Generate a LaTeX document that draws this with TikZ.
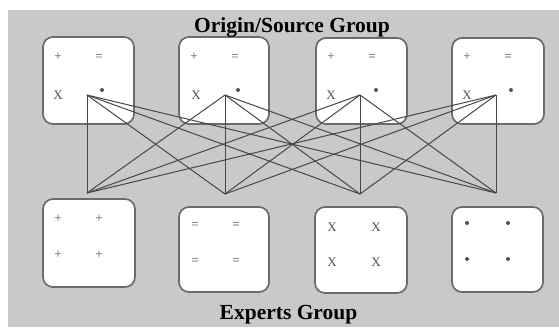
\documentclass[tikz,border=0pt]{standalone}
\usepackage{fontspec}
\setmainfont{Liberation Serif}
\begin{document}
\begin{tikzpicture}[x=1pt,y=-1pt,
  grp/.style={draw=black!58, line width=1.7pt, fill=white, rounded corners=10pt},
  sym/.style={font=\fontsize{13}{13}\selectfont\bfseries, text=black!50, inner sep=0pt},
  symx/.style={font=\fontsize{13}{13}\selectfont, text=black!68, inner sep=0pt},
  dot/.style={circle, fill=black!68, inner sep=0pt, minimum size=4pt},
  link/.style={draw=black!72, line width=1pt},
  title/.style={font=\fontsize{21.5}{22}\selectfont\bfseries, anchor=base, inner sep=0pt}]
\useasboundingbox (0,0) rectangle (559,327);
\fill[white] (0,0) rectangle (559,327);
\fill[black!21] (8,10) rectangle (559,327);
% top boxes
\draw[grp] (43,37) rectangle (134,124);
\draw[grp] (179,37) rectangle (269,124);
\draw[grp] (316,38) rectangle (407,124);
\draw[grp] (452,38) rectangle (544,124);
% bottom boxes
\draw[grp] (43,199) rectangle (135,287);
\draw[grp] (179,207) rectangle (269,292);
\draw[grp] (315,207) rectangle (407,293);
\draw[grp] (452,207) rectangle (543,292);
% top symbols
\foreach \k/\px/\ex/\xx/\dtx in {1/58/99/58/102, 2/194/235/196/238, 3/331/372/331/376, 4/467/508/467/511}{
  \node[sym] (tp\k) at (\px,57) {+};
  \node[sym] (te\k) at (\ex,57) {=};
  \node[symx] (tx\k) at (\xx,95) {X};
  \node[dot] (td\k) at (\dtx,90) {};
}
% bottom symbols
\foreach \a/\b [count=\n] in {58/219, 99/219, 58/255, 99/255}{\node[sym] (bp\n) at (\a,\b) {+};}
\foreach \a/\b [count=\n] in {195/225, 236/225, 195/261, 236/261}{\node[sym] (be\n) at (\a,\b) {=};}
\foreach \a/\b [count=\n] in {332/227, 376/227, 332/262, 376/262}{\node[symx] (bx\n) at (\a,\b) {X};}
\foreach \a/\b [count=\n] in {467/223, 508/223, 467/259, 508/259}{\node[dot] (bd\n) at (\a,\b) {};}
% hubs
\coordinate (t1) at (87,95);
\coordinate (t2) at (225,95);
\coordinate (t3) at (360,95);
\coordinate (t4) at (496,95);
\coordinate (b1) at (87,193);
\coordinate (b2) at (225,194);
\coordinate (b3) at (360,194);
\coordinate (b4) at (496,193);
\foreach \i in {1,2,3,4}{
  \foreach \j in {1,2,3,4}{
    \draw[link] (t\i) -- (b\j);
  }
}
% titles
\node[title] (src) at (292,32) {Origin/Source Group};
\node[title] (exp) at (288.5,319) {Experts Group};
\end{tikzpicture}
\end{document}
